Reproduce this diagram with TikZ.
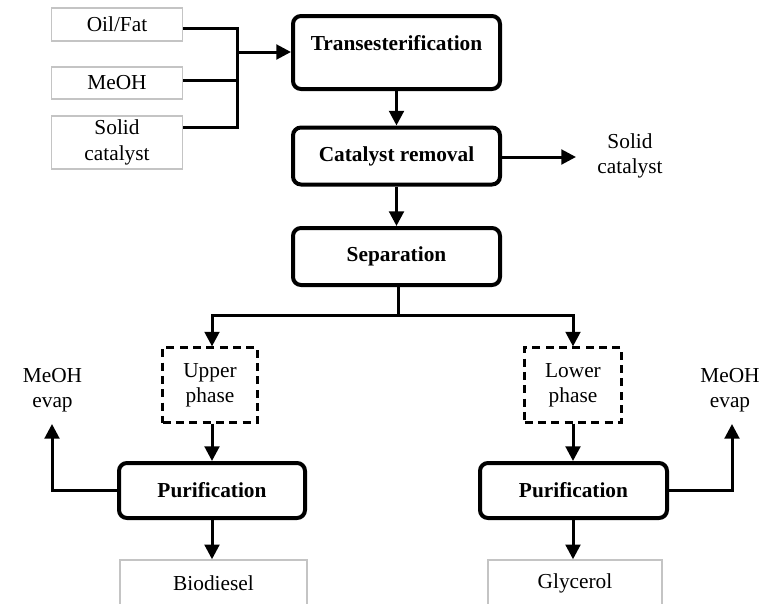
\documentclass[tikz,border=0pt]{standalone}
\usepackage{fontspec}
\setmainfont{Liberation Serif}
\usetikzlibrary{arrows.meta}

\begin{document}
\begin{tikzpicture}[x=0.75pt, y=-0.75pt,
	every node/.style={font=\fontsize{16}{19}\selectfont, align=center, inner sep=0pt},
	feed/.style={draw=black!23, line width=1.1pt, minimum width=98.25pt},
	stage/.style={draw, line width=3pt, rounded corners=6pt, minimum width=155.25pt, minimum height=42.75pt, font=\fontsize{16}{19}\selectfont\bfseries},
	phase/.style={draw, dash pattern=on 6pt off 4pt, line width=1.6pt, minimum height=56.25pt},
	pipe/.style={line width=2.25pt},
	flow/.style={line width=2.25pt, -{Triangle[length=11pt,width=11pt]}}]
	\useasboundingbox (0,0) rectangle (776,604);
	\node[feed, minimum height=24.75pt] (oil) at (117,24.5) {Oil/Fat};
	\node[feed, minimum height=24pt] (meoh) at (117,83) {MeOH};
	\node[feed, minimum height=39.75pt] (solid) at (117,142.5) {Solid\\catalyst};
	\node[stage, minimum height=54.75pt, text height=11pt, text depth=13.9pt] (trans) at (396.5,52.5) {Transesterification};
	\node[stage] (catrem) at (396.5,156) {Catalyst removal};
	\node (solidout) at (630,156) {Solid\\catalyst};
	\node[stage] (sep) at (396.5,256.5) {Separation};
	\node[phase, minimum width=71.25pt] (upper) at (210,385) {Upper\\phase};
	\node[phase, minimum width=72.75pt] (lower) at (573,385) {Lower\\phase};
	\node[stage, minimum width=139.5pt, minimum height=41.25pt] (purl) at (212,490.5) {Purification};
	\node[stage, minimum width=140.25pt, minimum height=41.25pt] (purr) at (573.5,490.5) {Purification};
	\node (evapl) at (52.5,390) {MeOH\\evap};
	\node (evapr) at (730,390) {MeOH\\evap};
	\node[feed, minimum width=140.25pt, minimum height=34.5pt] (bio) at (213.5,583) {Biodiesel};
	\node[feed, minimum width=130.5pt, minimum height=34.5pt] (gly) at (575,583) {Glycerol};

	\coordinate (b1) at (237,28);
	\coordinate (b2) at (237,80);
	\coordinate (b3) at (237,127);
	\coordinate (bus) at (237,52);
	\coordinate (split) at (398,315);
	\coordinate (out) at (576,157);
	\coordinate (evl) at (52,424);
	\coordinate (evr) at (732,424);

	\draw[pipe] (oil.east |- b1) -- (b1) -- (b3) -- (solid.east |- b3);
	\draw[pipe] (meoh.east |- b2) -- (b2);
	\draw[flow] (bus) -- (trans.west |- bus);
	\draw[flow] (trans.south) -- (catrem.north);
	\draw[flow] (catrem.east |- out) -- (out);
	\draw[flow] (catrem.south) -- (sep.north);
	\draw[pipe] (sep.south -| split) -- (split);
	\draw[flow] (split) -| (purl.north |- upper.north);
	\draw[flow] (split) -| (lower.north);
	\draw[flow] (purl.north |- upper.south) -- (purl.north);
	\draw[flow] (lower.south) -- (lower.south |- purr.north);
	\draw[flow] (purl.south) -- (purl.south |- bio.north);
	\draw[flow] (lower.south |- purr.south) -- (lower.south |- gly.north);
	\draw[flow] (purl.west) -| (evl);
	\draw[flow] (purr.east) -| (evr);
\end{tikzpicture}
\end{document}
